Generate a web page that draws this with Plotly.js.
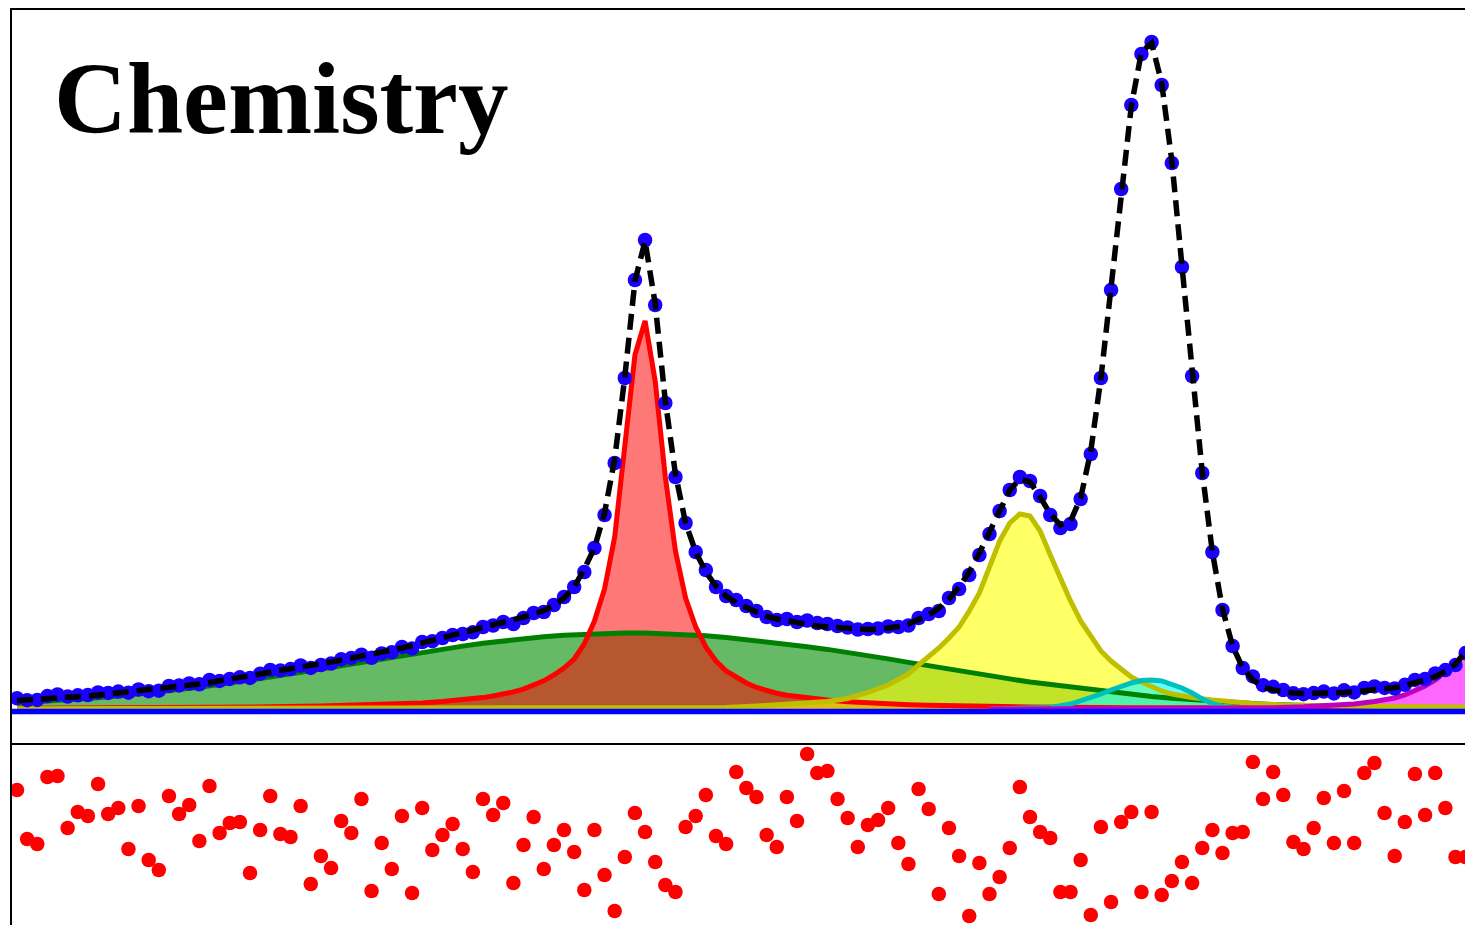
<!DOCTYPE html>
<html><head><meta charset="utf-8">
<script src="https://cdn.plot.ly/plotly-3.0.1.min.js"></script>
<style>html,body{margin:0;padding:0;background:#fff;overflow:hidden}#chart{width:1465px;height:925px}</style>
</head><body><div id="chart"></div>
<script>
// sample index of every measured point
const sampleIndex = [0,1,2,3,4,5,6,7,8,9,10,11,12,13,14,15,16,17,18,19,20,21,22,23,24,25,26,27,28,29,30,31,32,33,34,35,36,37,38,39,40,41,42,43,44,45,46,47,48,49,50,51,52,53,54,55,56,57,58,59,60,61,62,63,64,65,66,67,68,69,70,71,72,73,74,75,76,77,78,79,80,81,82,83,84,85,86,87,88,89,90,91,92,93,94,95,96,97,98,99,100,101,102,103,104,105,106,107,108,109,110,111,112,113,114,115,116,117,118,119,120,121,122,123,124,125,126,127,128,129,130,131,132,133,134,135,136,137,138,139,140,141,142,143];

// measured intensities (blue dots)
const observed = [10.8,8.8,9.1,12.9,14.5,12.4,13.7,14.0,16.6,16.1,
17.4,16.3,19.5,17.8,18.3,23.0,23.6,25.5,24.7,29.0,
28.1,30.1,31.7,31.1,35.3,39.0,38.6,39.9,43.5,41.1,
44.0,45.4,49.7,51.1,54.3,51.2,55.6,56.8,62,60.6,
67,67.8,71,74,75,76.7,82,83.5,87,85,
91,96,97,104,112,122,137,161,194,246,
331,429,469,404,306,232,186,157,139,122,
113,109,103,98,92,89,90,87,88.5,86,
85,83,81.5,79.5,80,80.5,82.5,82,83.5,91,
95,98,111,120,134,154,175,198,219,232,
228,213,194,181,185,210,255,331,419,520,
604,655,667,624,546,442,333,236,157,99,
63,41,32.6,23.8,22.2,19,15.7,14.8,15.9,17.4,
15.6,18.7,16.6,21.1,22.6,21.1,20.5,24.2,29.1,30,
35.6,38.9,43.9,55.9];

// total fit (black dashed)
const fitTotal = [8.5,9,9.5,10,11.5,12,12.5,13,14,15,
16,17,18,19,20,21,22.5,24,25,26.5,
28,29.5,31,33,35,37,38.5,40,42,43.5,
45,47,49,51,52.5,54,56,58.5,61,63.5,
66,68.5,71,73.5,76,78.5,81,83.5,86,89,
92,95,98.5,103.5,111,122,140,161,196,250,
332,428,468,405,308,235,186,157,137,123,
113,106,101,96.5,92.5,90,88,86.5,84.5,83,
82,81.2,80.5,80,79.5,79.8,81,82.5,85,89,
94,101,110,122,137,156,177,199,219,230,
227,212,195,184,188,211,258,331,421,520,
603,657,666,626,548,443,335,237,157,100,
63,41,29,22,19,17,16,15.5,15.5,15.5,
16,16.5,17,18,19,20,21.5,23.5,26,29,
32.5,37.5,45,57];

// residuals (lower panel)
const residuals = [4.5,-0.4,-0.9,5.8,5.9,0.7,2.3,1.9,5.1,2.1,
2.7,-1.4,2.9,-2.5,-3.5,3.9,2.1,3.0,-0.6,4.9,
0.2,1.2,1.3,-3.8,0.5,3.9,0.1,-0.2,2.9,-4.9,
-2.1,-3.3,1.4,0.2,3.6,-5.6,-0.8,-3.4,1.9,-5.8,
2.7,-1.5,0,1.1,-1.4,-3.7,3.6,2.0,3.2,-4.8,
-1.0,1.8,-3.4,-1.0,0.5,-1.7,-5.5,0.5,-4.0,-7.6,
-2.2,2.2,0.3,-2.7,-5.0,-5.7,0.8,1.9,4.0,-0.1,
-0.9,6.3,4.7,3.8,0,-1.2,3.8,1.4,8.1,6.2,
6.4,3.6,1.7,-1.2,1.0,1.5,2.7,-0.8,-2.9,4.6,
2.6,-5.9,0.7,-2.1,-8.1,-2.8,-5.9,-4.2,-1.3,4.8,
1.8,0.3,-0.3,-5.7,-5.7,-2.5,-8.0,0.8,-6.7,1.3,
2.3,-5.7,2.3,-6.0,-4.6,-2.7,-4.8,-1.3,0.5,-1.8,
0.2,0.3,7.3,3.6,6.3,4.0,-0.7,-1.4,0.7,3.7,
-0.8,4.4,-0.8,6.2,7.2,2.2,-2.1,1.3,6.1,2.0,
6.2,2.7,-2.2,-2.2];

// component 1 (green, broad)
const greenX = [0,2,4,6,8,10,12,14,16,18,20,22,24,26,28,30,32,34,36,38,40,42,44,46,48,50,52,54,56,58,60,62,64,66,68,70,72,74,76,78,80,82,84,86,88,90,92,94,96,98,100,102,104,106,108,110,112,114,116,118,120,122,124,126,128,130,132,134,136,138,140,142,144];
const greenY = [6.1,7.2,8.4,9.8,11.3,13.1,15.0,17.1,19.4,21.8,
24.5,27.3,30.3,33.4,36.6,39.9,43.3,46.7,50.1,53.5,
56.8,59.9,62.9,65.7,68.2,70.4,72.3,73.8,74.9,75.7,
76.0,75.9,75.4,74.5,73.2,71.5,69.5,67.3,64.8,62.3,
59.6,56.7,53.5,50.1,46.6,43.1,39.7,36.4,33.2,30.1,
27.0,24.5,21.8,19.2,16.8,14.6,12.6,10.8,9.2,7.8,
6.5,5.4,4.4,3.6,2.9,2.3,1.8,1.45,1.15,0.9,
0.7,0.55,0.45];

// component 2 (red, sharp)
const redX = [0,5,10,15,20,25,30,34,38,40,42,44,46,47,48,49,50,51,52,53,54,55,56,57,58,59,60,61,62,63,64,65,66,67,68,69,70,71,72,73,74,75,76,78,80,82,84,86,88,90,95,100,110,120,130,144];
const redY = [0.8,0.9,1.1,1.35,1.7,2.2,2.9,3.8,5.1,6.1,7.4,9.1,11.4,13,14.8,17.1,19.9,23.6,28.2,34,41,50,65,88,120,172,258,354,388,328,232,158,111,82,62,48,38,32,26,21.5,18.3,15.8,13.8,10.8,8.9,7.2,6.0,5.1,4.3,3.7,2.7,2.0,1.3,0.9,0.65,0.45];

// component 3 (yellow)
const yellowX = [0,30,50,60,65,70,73,76,78,80,82,84,86,87,88,89,90,91,92,93,94,95,96,97,98,99,100,101,102,103,104,105,106,107,108,109,110,111,112,113,114,115,116,118,120,122,125,130,135,144];
const yellowY = [0.3,0.5,0.7,0.9,1.1,1.5,3,4.5,6,7.5,10.5,16.5,24,29,35,44,52,61,71,82,98,116,142,168,186,195,193,178,154,130,108,88,72,58,48,40,32,27,22,18,15,13,11.5,9,7,5.5,4,3,2.5,1.8];

// component 4 (cyan)
const cyanX = [96,100,102,104,105,106,107,108,109,110,111,112,113,114,115,116,117,118,119,120,122,126];
const cyanY = [0,0.5,1.5,5,8,11,15,19,23,26,28.5,29,28,25,21,16,10,5.5,2.5,1,0.2,0];

// component 5 (magenta)
const magentaX = [96,100,110,120,124,127,130,132,134,135,136,137,138,139,140,141,142,143,144];
const magentaY = [0,0.1,0.2,0.5,1.2,2.2,3.5,5,7.5,9,11,14,18,23,29,37,46,57,70];

// background level
const baseX = [-1,145];
const baseY = [-2.5,-2.5];

const components = [
  {x: greenX, y: greenY, line: '#008000', fill: 'rgba(0,140,0,0.6)'},
  {x: redX, y: redY, line: '#ff0000', fill: 'rgba(255,0,0,0.53)'},
  {x: yellowX, y: yellowY, line: '#bfbf00', fill: 'rgba(255,255,0,0.6)'},
  {x: cyanX, y: cyanY, line: '#00bfbf', fill: 'rgba(0,255,255,0.6)'},
  {x: magentaX, y: magentaY, line: '#bf00bf', fill: 'rgba(255,0,255,0.6)'}
];

const traces = [];
components.forEach(c => traces.push({x: c.x, y: c.y, type: 'scatter', mode: 'none', fill: 'tozeroy', fillcolor: c.fill, xaxis: 'x', yaxis: 'y', hoverinfo: 'skip'}));
components.forEach(c => traces.push({x: c.x, y: c.y, type: 'scatter', mode: 'lines', line: {color: c.line, width: 5}, xaxis: 'x', yaxis: 'y'}));
traces.push({x: baseX, y: baseY, type: 'scatter', mode: 'lines', line: {color: '#0000ff', width: 5.5}, xaxis: 'x', yaxis: 'y'});
traces.push({x: sampleIndex, y: observed, type: 'scatter', mode: 'markers', marker: {color: 'rgb(25,0,255)', size: 14.5}, xaxis: 'x', yaxis: 'y'});
traces.push({x: sampleIndex, y: fitTotal, type: 'scatter', mode: 'lines', line: {color: '#000000', width: 5.5, dash: '16px,8px'}, xaxis: 'x', yaxis: 'y'});
traces.push({x: sampleIndex, y: residuals, type: 'scatter', mode: 'markers', marker: {color: '#ff0000', size: 14.5}, xaxis: 'x2', yaxis: 'y2'});

const XR = [-0.494, 142.94];
const axCommon = {showline: true, linecolor: '#000', linewidth: 2.5, showticklabels: false, ticks: '', showgrid: false, zeroline: false, fixedrange: true};
const layout = {
  width: 1465, height: 925,
  margin: {l: 12, r: 0, t: 10, b: 0, pad: 0},
  paper_bgcolor: '#fff', plot_bgcolor: '#fff',
  showlegend: false,
  xaxis: Object.assign({}, axCommon, {range: XR, domain: [0, 1], anchor: 'y', side: 'top'}),
  yaxis: Object.assign({}, axCommon, {range: [-36, 699], domain: [0.19672, 1], anchor: 'x', side: 'left'}),
  xaxis2: Object.assign({}, axCommon, {range: XR, domain: [0, 1], anchor: 'y2', side: 'top'}),
  yaxis2: Object.assign({}, axCommon, {range: [-9, 9], domain: [0, 0.19672], anchor: 'x2', side: 'left'}),
  annotations: [{
    text: 'Chemistry', xref: 'paper', yref: 'paper', x: 0.0275, y: 0.9027,
    xanchor: 'left', yanchor: 'middle', showarrow: false,
    font: {family: 'Liberation Serif', size: 101, color: '#000', weight: 'bold'}
  }]
};
Plotly.newPlot('chart', traces, layout, {staticPlot: true, displayModeBar: false});
</script></body></html>
